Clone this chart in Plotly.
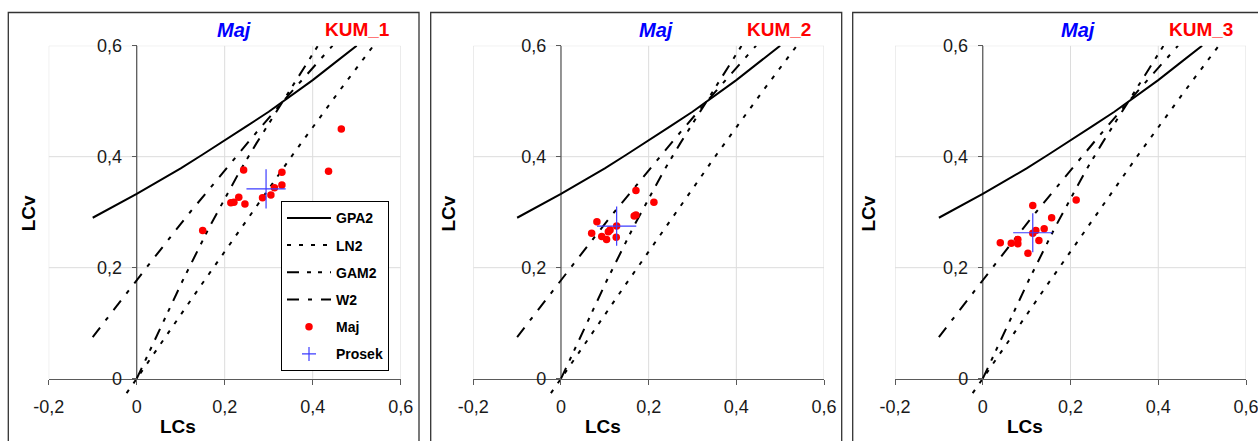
import plotly.graph_objects as go

# ---------------- data ----------------
gpa2_lcs = [-0.1, -0.05, 0.0, 0.05, 0.1, 0.15, 0.2, 0.25, 0.3, 0.35, 0.4, 0.45, 0.5]
gpa2_lcv = [0.290, 0.311, 0.333, 0.356, 0.379, 0.404, 0.429, 0.455, 0.481, 0.509, 0.538, 0.569, 0.600]

ln2_lcs = [-0.023, 0.0, 0.146, 0.241, 0.355, 0.462, 0.538]
ln2_lcv = [-0.026, 0.0, 0.168, 0.276, 0.404, 0.520, 0.600]

gam2_lcs = [0.0, 0.033, 0.060, 0.104, 0.165, 0.235, 0.272, 0.333, 0.372, 0.412]
gam2_lcv = [0.0, 0.056, 0.103, 0.176, 0.273, 0.375, 0.424, 0.500, 0.548, 0.600]

w2_lcs = [-0.1, -0.048, 0.028, 0.114, 0.194, 0.267, 0.333, 0.375, 0.423, 0.445]
w2_lcv = [0.075, 0.129, 0.206, 0.293, 0.370, 0.439, 0.500, 0.537, 0.580, 0.600]

kum1_lcs = [0.150, 0.214, 0.221, 0.232, 0.243, 0.246, 0.286, 0.305, 0.313, 0.330, 0.330, 0.436, 0.465]
kum1_lcv = [0.267, 0.317, 0.318, 0.327, 0.376, 0.315, 0.326, 0.331, 0.344, 0.349, 0.372, 0.374, 0.450]
kum1_mean_lcs = [0.294]
kum1_mean_lcv = [0.342]

kum2_lcs = [0.171, 0.212, 0.082, 0.070, 0.093, 0.104, 0.108, 0.112, 0.127, 0.126, 0.167, 0.171]
kum2_lcv = [0.339, 0.318, 0.283, 0.262, 0.256, 0.251, 0.265, 0.268, 0.275, 0.255, 0.293, 0.295]
kum2_mean_lcs = [0.127]
kum2_mean_lcv = [0.275]

kum3_lcs = [0.213, 0.114, 0.157, 0.140, 0.121, 0.114, 0.128, 0.080, 0.080, 0.065, 0.040, 0.103]
kum3_lcv = [0.322, 0.312, 0.290, 0.270, 0.267, 0.262, 0.249, 0.251, 0.243, 0.244, 0.245, 0.226]
kum3_mean_lcs = [0.114]
kum3_mean_lcv = [0.263]

station_names = ["KUM_1", "KUM_2", "KUM_3"]
month_name = "Maj"

x_tick_vals = [-0.2, 0.0, 0.2, 0.4, 0.6]
x_tick_text = ["-0,2", "0", "0,2", "0,4", "0,6"]
y_tick_vals = [0.0, 0.2, 0.4, 0.6]
y_tick_text = ["0", "0,2", "0,4", "0,6"]
x_grid = [-0.2, 0.2, 0.4, 0.6]
y_grid = [0.2, 0.4, 0.6]

# ---------------- layout geometry ----------------
W, H = 1258, 441
FONT = "Liberation Sans, Arial, sans-serif"

def fx(px):
    return px / W

def fy(py):
    return 1 - py / H

X_RANGE = [-0.2, 0.6]
Y_RANGE = [-0.05, 0.6]
Y_DOMAIN = [fy(406.45), fy(45.7)]
X_AXIS_POS = fy(378.7)

panels = [
    dict(box=(8.3, 419.0), dom=(48.7, 400.7), lcv_x=28.0, lcs_x=178.0,
         lcs=kum1_lcs, lcv=kum1_lcv, mx=kum1_mean_lcs, my=kum1_mean_lcv),
    dict(box=(430.7, 841.7), dom=(473.3, 824.0), lcv_x=448.3, lcs_x=602.7,
         lcs=kum2_lcs, lcv=kum2_lcv, mx=kum2_mean_lcs, my=kum2_mean_lcv),
    dict(box=(852.7, 1264.0), dom=(895.0, 1246.0), lcv_x=868.3, lcs_x=1025.0,
         lcs=kum3_lcs, lcv=kum3_lcv, mx=kum3_mean_lcs, my=kum3_mean_lcv),
]

fig = go.Figure()
shapes = []
annotations = []
layout_axes = {}

curve_specs = [
    ("GPA2", gpa2_lcs, gpa2_lcv, "solid"),
    ("LN2", ln2_lcs, ln2_lcv, "4px,8px"),
    ("GAM2", gam2_lcs, gam2_lcv, "12px,8px,4px,7px,4px,8px"),
    ("W2", w2_lcs, w2_lcv, "12px,9px,4px,9px"),
]

AXIS_COLOR = "#5a5a5a"
GRID_COLOR = "#dcdcdc"

for i, p in enumerate(panels):
    n = "" if i == 0 else str(i + 1)
    xa, ya = "x" + n, "y" + n
    d0, d1 = fx(p["dom"][0]), fx(p["dom"][1])
    ypos = d0 + (0 - X_RANGE[0]) / (X_RANGE[1] - X_RANGE[0]) * (d1 - d0)

    layout_axes["xaxis" + n] = dict(
        domain=[d0, d1], range=X_RANGE, anchor="free", position=X_AXIS_POS,
        showgrid=False, zeroline=False, showline=True, linecolor=AXIS_COLOR, linewidth=1.3,
        ticks="outside", ticklen=5, tickcolor=AXIS_COLOR, tickwidth=1.3,
        tickvals=x_tick_vals, ticktext=x_tick_text, ticklabelstandoff=7,
        ticklabeloverflow="allow",
        tickfont=dict(family=FONT, size=18, color="#1a1a1a"), automargin=False,
        fixedrange=True,
    )
    layout_axes["yaxis" + n] = dict(
        domain=Y_DOMAIN, range=Y_RANGE, anchor="free", position=ypos,
        showgrid=False, zeroline=False, showline=False,
        ticks="outside", ticklen=5, tickcolor=AXIS_COLOR, tickwidth=1.3,
        tickvals=y_tick_vals, ticktext=y_tick_text, ticklabelstandoff=6,
        ticklabeloverflow="allow",
        tickfont=dict(family=FONT, size=18, color="#1a1a1a"), automargin=False,
        fixedrange=True,
    )

    # gridlines
    for gx in x_grid:
        shapes.append(dict(type="line", xref=xa, yref=ya, x0=gx, x1=gx, y0=0, y1=0.6,
                           line=dict(color=GRID_COLOR, width=1), layer="below"))
    for gy in y_grid:
        shapes.append(dict(type="line", xref=xa, yref=ya, x0=-0.2, x1=0.6, y0=gy, y1=gy,
                           line=dict(color=GRID_COLOR, width=1), layer="below"))
    # vertical axis line at LCs = 0
    shapes.append(dict(type="line", xref=xa, yref=ya, x0=0, x1=0, y0=0, y1=0.6,
                       line=dict(color=AXIS_COLOR, width=1.3), layer="below"))
    # panel border
    shapes.append(dict(type="rect", xref="paper", yref="paper",
                       x0=fx(p["box"][0]), x1=fx(p["box"][1]), y0=-0.05, y1=fy(12.5),
                       line=dict(color="#333333", width=1.3), fillcolor="rgba(0,0,0,0)"))

    for name, xs, ys, dash in curve_specs:
        fig.add_trace(go.Scatter(
            x=xs, y=ys, mode="lines", name=name, xaxis=xa, yaxis=ya,
            line=dict(color="black", width=2, dash=dash),
            showlegend=(i == 0), legendgroup=name, hoverinfo="skip"))

    fig.add_trace(go.Scatter(
        x=p["lcs"], y=p["lcv"], mode="markers", name=month_name, xaxis=xa, yaxis=ya,
        marker=dict(color="#ff0000", size=7.5, line=dict(width=0)),
        showlegend=(i == 0), legendgroup="Maj"))
    fig.add_trace(go.Scatter(
        x=p["mx"], y=p["my"], mode="markers", name="Prosek", xaxis=xa, yaxis=ya,
        marker=dict(symbol="cross-thin", size=28, line=dict(color="rgb(60,60,255)", width=1.2)),
        showlegend=False, legendgroup="Prosek"))
    if i == 0:
        fig.add_trace(go.Scatter(
            x=[None], y=[None], mode="markers", name="Prosek", xaxis=xa, yaxis=ya,
            marker=dict(symbol="cross-thin", size=10, line=dict(color="rgb(60,60,255)", width=1.2)),
            showlegend=True, legendgroup="Prosek"))

    left = p["box"][0]
    annotations.append(dict(x=fx(left + 225.7), y=fy(30), xref="paper", yref="paper",
                            text="<b><i>" + month_name + "</i></b>", showarrow=False,
                            font=dict(family=FONT, size=20, color="#0000ff"),
                            xanchor="center", yanchor="middle"))
    annotations.append(dict(x=fx(left + 348.7), y=fy(30), xref="paper", yref="paper",
                            text="<b>" + station_names[i] + "</b>", showarrow=False,
                            font=dict(family=FONT, size=19, color="#ff0000"),
                            xanchor="center", yanchor="middle"))
    annotations.append(dict(x=fx(p["lcv_x"]), y=fy(213.3), xref="paper", yref="paper",
                            text="<b>LCv</b>", showarrow=False, textangle=-90,
                            font=dict(family=FONT, size=19, color="black"),
                            xanchor="center", yanchor="middle"))
    annotations.append(dict(x=fx(p["lcs_x"]), y=fy(426.7), xref="paper", yref="paper",
                            text="<b>LCs</b>", showarrow=False,
                            font=dict(family=FONT, size=19, color="black"),
                            xanchor="center", yanchor="middle"))

fig.update_layout(
    width=W, height=H, template="none",
    margin=dict(l=0, r=0, t=0, b=0, pad=0),
    paper_bgcolor="white", plot_bgcolor="white",
    font=dict(family=FONT, color="black"),
    showlegend=True,
    legend=dict(x=fx(281), y=fy(201.3), xanchor="left", yanchor="top",
                bordercolor="black", borderwidth=1, bgcolor="white",
                font=dict(family=FONT, size=14, color="black", weight="bold"),
                traceorder="grouped", tracegroupgap=6, itemwidth=44,
                itemclick=False, itemdoubleclick=False),
    shapes=shapes, annotations=annotations,
    **layout_axes,
)

fig.write_html("out.html")
